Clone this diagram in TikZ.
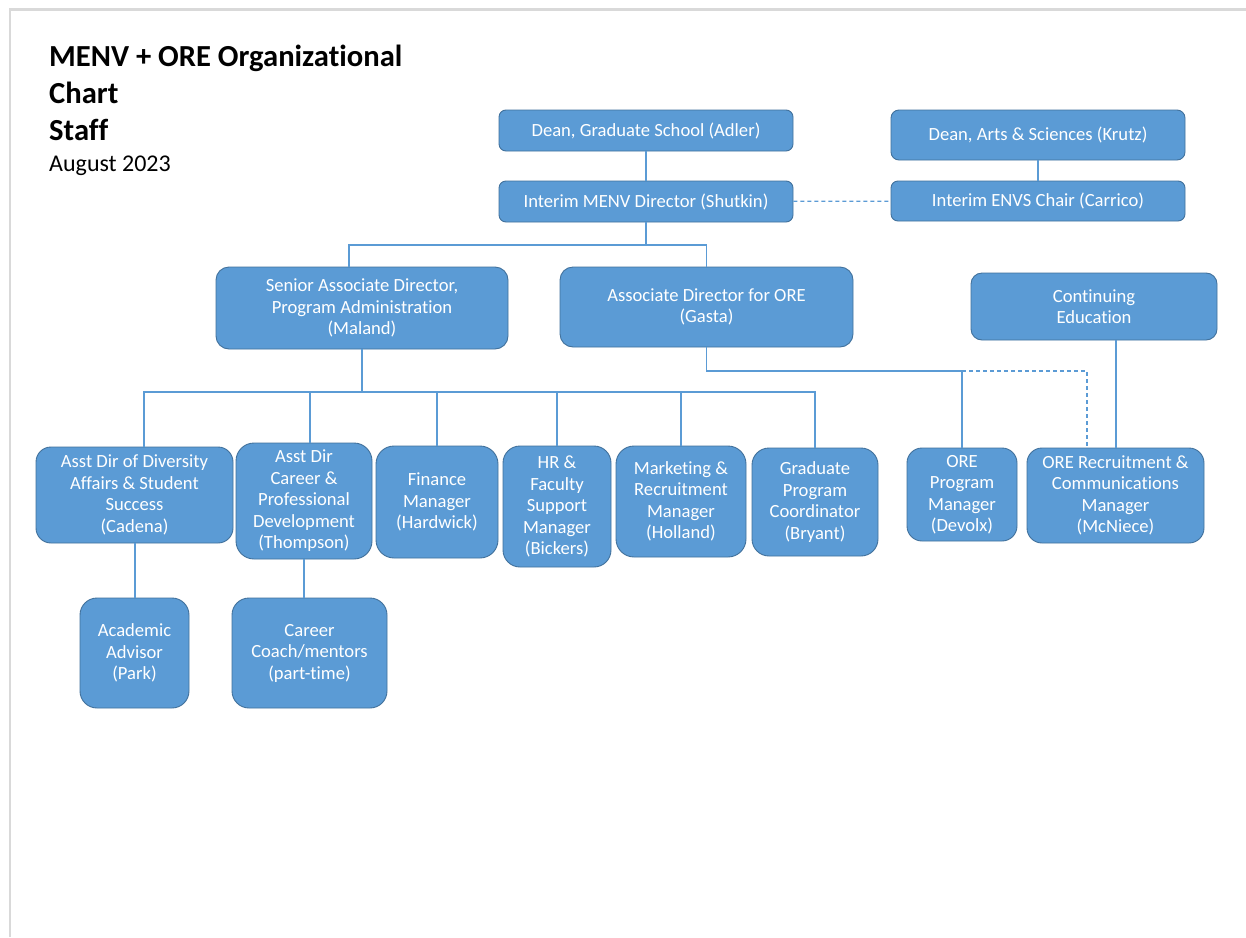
\documentclass[tikz,border=0pt]{standalone}
\usepackage{fontspec}
\setmainfont{Carlito}[Ligatures={NoCommon}]
\definecolor{boxfill}{HTML}{5B9BD5}
\definecolor{boxline}{HTML}{41719C}
\definecolor{conn}{HTML}{5B9BD5}
\definecolor{pageframe}{HTML}{D9D9D9}
\newcommand{\orgnode}[7]{%
  \pgfmathsetmacro{\obcx}{(#2+#4)/2}\pgfmathsetmacro{\obcy}{(#3+#5)/2}%
  \pgfmathsetmacro{\obww}{#4-#2}\pgfmathsetmacro{\obhh}{#5-#3}%
  \node[orgbox, minimum width=\obww pt, minimum height=\obhh pt, rounded corners=#6pt] (#1) at (\obcx,\obcy) {#7};}
\begin{document}
\begin{tikzpicture}[x=1pt,y=-1pt,
  orgbox/.style={draw=boxline, fill=boxfill, line width=0.9pt, text=white, align=center,
    font=\fontsize{18.6}{21.5}\selectfont, inner sep=0pt},
  link/.style={draw=conn, line width=1.2pt},
  dlink/.style={link, dash pattern=on 4pt off 3pt},
  titletext/.style={anchor=base west, inner sep=0pt, text=black}]
\useasboundingbox (0,0) rectangle (1246,937);
\fill[white] (0,0) rectangle (1246,937);
\draw[pageframe, line width=2.5pt] (10,937) -- (10,9.5) -- (1246,9.5);

% title
\node[titletext, font=\fontsize{30.6}{36}\selectfont\bfseries] (t1) at (49,66.7) {MENV + ORE Organizational};
\node[titletext, font=\fontsize{30.6}{36}\selectfont\bfseries] (t2) at (49,103.3) {Chart};
\node[titletext, font=\fontsize{30.6}{36}\selectfont\bfseries] (t3) at (49,140) {Staff};
\node[titletext, font=\fontsize{24}{28}\selectfont] (t4) at (49,171.7) {August 2023};

% boxes
\orgnode{gs}{499}{110}{793}{151}{7}{Dean, Graduate School (Adler)}
\orgnode{das}{891}{110}{1185}{160}{8}{Dean, Arts \& Sciences (Krutz)}
\orgnode{menv}{499}{181}{793}{222}{7}{Interim MENV Director (Shutkin)}
\orgnode{envs}{891}{181}{1185}{221}{7}{Interim ENVS Chair (Carrico)}
\orgnode{sad}{216}{267}{508}{349}{13}{Senior Associate Director,\\Program Administration\\(Maland)}
\orgnode{ore}{560}{267}{853}{347}{13}{Associate Director for ORE\\(Gasta)}
\orgnode{ce}{971}{273}{1217}{340}{11}{Continuing\\Education}
\orgnode{div}{36}{447}{233}{543}{15}{Asst Dir of Diversity\\Affairs \& Student\\Success\\(Cadena)}
\orgnode{car}{236}{443}{372}{559}{18}{Asst Dir\\Career \&\\Professional\\Development\\(Thompson)}
\orgnode{fin}{376}{446}{498}{558}{18}{Finance\\Manager\\(Hardwick)}
\orgnode{hr}{503}{446}{611}{567}{17}{HR \&\\Faculty\\Support\\Manager\\(Bickers)}
\orgnode{mkt}{616}{446}{746}{557}{18}{Marketing \&\\Recruitment\\Manager\\(Holland)}
\orgnode{grad}{752}{448}{878}{556}{17}{Graduate\\Program\\Coordinator\\(Bryant)}
\orgnode{orep}{907}{448}{1017}{541}{15}{ORE\\Program\\Manager\\(Devolx)}
\orgnode{orer}{1027}{448}{1204}{543}{15}{ORE Recruitment \&\\Communications\\Manager\\(McNiece)}
\orgnode{acad}{80}{598}{189}{708}{17}{Academic\\Advisor\\(Park)}
\orgnode{coach}{232}{598}{387}{708}{17}{Career\\Coach/mentors\\(part-time)}

% connectors: top
\draw[link] (gs) -- (menv);
\draw[dlink] (menv) -- (envs);
\draw[link] (das) -- (envs);
\coordinate (j1) at (646,245);
\coordinate (j1l) at (349,245);
\draw[link] (menv.south) -- (j1);
\draw[link] (sad.north -| j1l) -- (j1l) -- (j1 -| ore.north) -- (ore.north);

% connectors: staff row
\coordinate (j2) at (362,392);
\coordinate (d1) at (144,392);
\coordinate (d2) at (310,392);
\draw[link] (sad.south) -- (j2);
\draw[link] (div.north -| d1) -- (d1) -- (grad.north |- d1) -- (grad.north);
\draw[link] (d2) -- (car.north -| d2);
\draw[link] (fin.north |- d1) -- (fin.north);
\draw[link] (hr.north |- d1) -- (hr.north);
\draw[link] (mkt.north |- d1) -- (mkt.north);

% connectors: ORE
\coordinate (j3) at (962,371);
\coordinate (d3) at (1087,371);
\coordinate (d4) at (1116,340);
\draw[link] (ore.south) -- (ore.south |- j3) -- (orep.north |- j3) -- (orep.north);
\draw[dlink] (orep.north |- j3) -- (d3) -- (orer.north -| d3);
\draw[link] (ce.south -| d4) -- (orer.north -| d4);

% connectors: bottom row
\coordinate (d5) at (135,543);
\coordinate (d6) at (304,559);
\draw[link] (div.south -| d5) -- (acad.north -| d5);
\draw[link] (car.south -| d6) -- (coach.north -| d6);
\end{tikzpicture}
\end{document}
